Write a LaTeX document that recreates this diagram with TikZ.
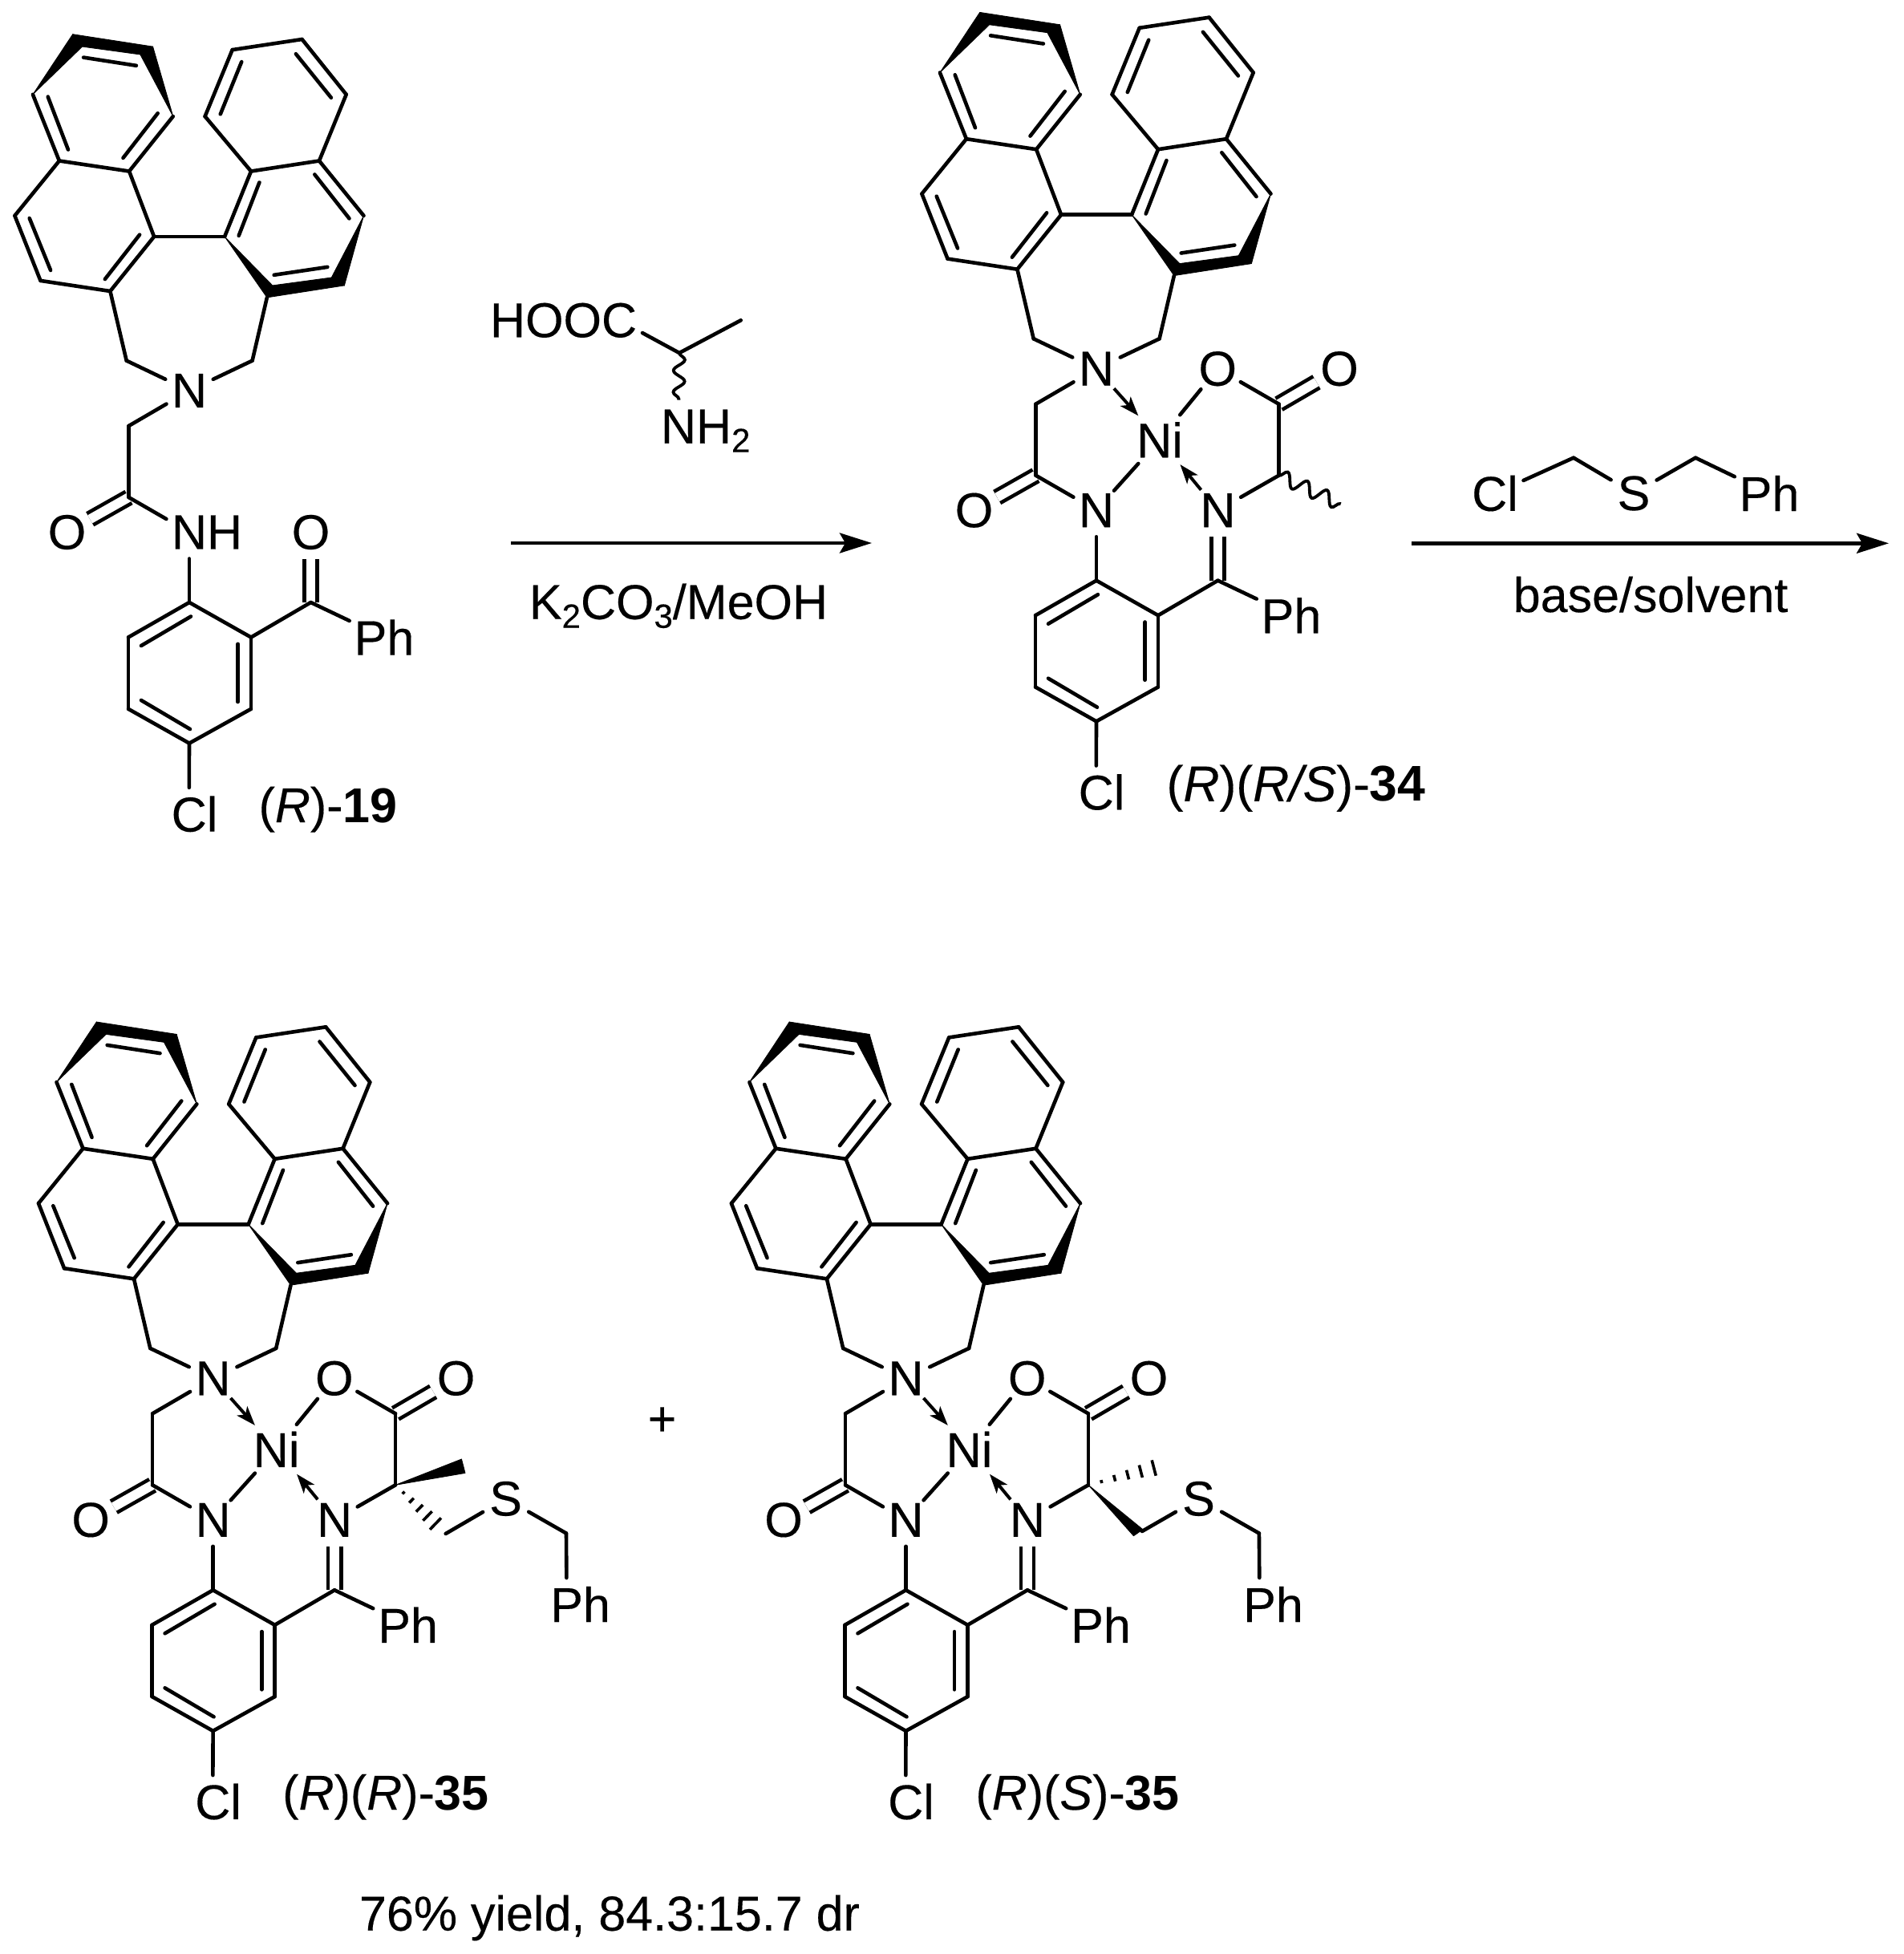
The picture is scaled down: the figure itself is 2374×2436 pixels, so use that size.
\documentclass[tikz,border=0pt]{standalone}
\usepackage{fontspec}
\setmainfont{Liberation Sans}[UprightFeatures={FakeBold=0.25},ItalicFeatures={FakeBold=0.25}]
\usetikzlibrary{arrows.meta,calc,decorations.pathmorphing}
\newcommand\sbs[1]{\raisebox{-11pt}[0pt][0pt]{\fontsize{42}{42}\selectfont #1}}
\tikzset{
  x=1pt,y=-1pt,
  bond/.style={line width=4.6pt,line cap=round,line join=round},
  dbl/.style={line width=4.6pt,double,double distance=11.6pt,line cap=butt},
  solid wedge/.style={fill=black,draw=black,line width=0.8pt,line join=round},
  dative/.style={line width=4pt,-{Stealth[length=24pt,width=17pt,inset=6pt]}},
  hashline/.style={line width=3.6pt},
  wavy/.style={line width=3.8pt,decorate,decoration={snake,segment length=27pt,amplitude=8.5pt,pre length=0pt,post length=0pt}},
  rxn/.style={line width=4.6pt,-{Stealth[length=40pt,width=25pt,inset=7pt]}},
  atom/.style={circle,inner sep=0pt,outer sep=0pt,minimum size=66pt,font=\fontsize{61}{63}\selectfont},
  nickel/.style={atom,minimum size=80pt},
  phenyl/.style={atom,minimum size=96pt},
  lab/.style={anchor=base,inner sep=0pt,font=\fontsize{61}{63}\selectfont}
}
% binaphthyl part, common to all four compounds
\newcommand\binaph[1]{%
  \coordinate (#1a) at (90.7,42.7);   \coordinate (#1b) at (190.6,58.1);
  \coordinate (#1ai) at (102.6,58.1); \coordinate (#1bi) at (174.9,68);
  \coordinate (#1c) at (40.9,117.8);  \coordinate (#1d) at (215.8,145.1);
  \coordinate (#1e) at (73.9,200.5);  \coordinate (#1f) at (161.1,213.5);
  \coordinate (#1g) at (18.4,268.9);  \coordinate (#1h) at (192.1,295);
  \coordinate (#1i) at (50.5,349.9);  \coordinate (#1j) at (137.4,363);
  \coordinate (#1k) at (157.7,449.6); \coordinate (#1l) at (314.6,449.6);
  \coordinate (#1m) at (332.9,370.9); \coordinate (#1n) at (280.1,295);
  \coordinate (#1o) at (313,213.5);   \coordinate (#1p) at (398,200.5);
  \coordinate (#1q) at (453.5,268.9); \coordinate (#1r) at (429.4,355.9);
  \coordinate (#1ri) at (413.3,346);  \coordinate (#1mi) at (339.8,355.9);
  \coordinate (#1s) at (255.6,145.1); \coordinate (#1t) at (289.7,62.1);
  \coordinate (#1u) at (376.6,49);    \coordinate (#1v) at (431.7,117.8);
  \filldraw[solid wedge] (#1c) -- (#1a) -- (#1ai) -- cycle;
  \filldraw[solid wedge] (#1a) -- (#1b) -- (#1bi) -- (#1ai) -- cycle;
  \filldraw[solid wedge] (#1d) -- (#1b) -- (#1bi) -- cycle;
  \filldraw[solid wedge] (#1n) -- (#1mi) -- (#1m) -- cycle;
  \filldraw[solid wedge] (#1mi) -- (#1ri) -- (#1r) -- (#1m) -- cycle;
  \filldraw[solid wedge] (#1q) -- (#1r) -- (#1ri) -- cycle;
  \draw[bond] (#1c) -- (#1e);
  \draw[bond] (#1e) -- (#1f);
  \draw[bond] (#1f) -- (#1d);
  \draw[bond] (#1e) -- (#1g);
  \draw[bond] (#1g) -- (#1i);
  \draw[bond] (#1i) -- (#1j);
  \draw[bond] (#1j) -- (#1h);
  \draw[bond] (#1h) -- (#1f);
  \draw[bond] (#1h) -- (#1n);
  \draw[bond] (#1n) -- (#1o);
  \draw[bond] (#1o) -- (#1p);
  \draw[bond] (#1p) -- (#1q);
  \draw[bond] (#1o) -- (#1s);
  \draw[bond] (#1s) -- (#1t);
  \draw[bond] (#1t) -- (#1u);
  \draw[bond] (#1u) -- (#1v);
  \draw[bond] (#1v) -- (#1p);
  \draw[bond] (#1j) -- (#1k);
  \draw[bond] (#1l) -- (#1m);
  % inner strokes of the aromatic double bonds
  \draw[bond] (104.1,71.6) -- (169.9,81.8);
  \draw[bond] (59.7,120.6) -- (85,186.6);
  \draw[bond] (196.7,141.2) -- (153.5,196.9);
  \draw[bond] (36.7,272) -- (63.1,336.9);
  \draw[bond] (174.1,292.6) -- (130.9,348);
  \draw[bond] (301.2,77.1) -- (274.8,142.3);
  \draw[bond] (368.9,67.2) -- (412.9,121.8);
  \draw[bond] (323.4,227.4) -- (297.7,293.8);
  \draw[bond] (392.3,217.5) -- (435.5,272.4);
  \draw[bond] (341.7,342.8) -- (408.3,332.9);
}
% lower part shared by all: #1 prefix, #2 text of amide N, #3 text of top atom
\newcommand\skeleton[3]{%
  \binaph{#1}
  \node[atom] (#1n1) at (236,487) {N};
  \node[atom] (#1n2) at (236,663.5) {#2};
  \node[atom] (#1n3) at (387.5,663.5) {#3};
  \node[atom] (#1o3) at (83.5,663.5) {O};
  \node[atom] (#1cl) at (235.7,1014.8) {C\rlap{l}};
  \node[phenyl] (#1ph) at (479,794.5) {Ph};
  \coordinate (#1c1) at (160.5,531);
  \coordinate (#1c2) at (160.5,620);
  \coordinate (#1c5) at (387.5,751);
  \coordinate (#1r1) at (236,751);
  \coordinate (#1r2) at (313,794.5);
  \coordinate (#1r3) at (313,883.8);
  \coordinate (#1r4) at (236,926.6);
  \coordinate (#1r5) at (160,883.8);
  \coordinate (#1r6) at (160,794.5);
  \draw[dbl] (#1c2) -- (#1o3);
  \draw[dbl] (#1c5) -- (#1n3);
  \draw[bond] (#1k) -- (#1n1);
  \draw[bond] (#1l) -- (#1n1);
  \draw[bond] (#1n1) -- (#1c1);
  \draw[bond] (#1c1) -- (#1c2);
  \draw[bond] (#1c2) -- (#1n2);
  \draw[bond] (#1n2) -- (#1r1);
  \draw[bond] (#1r1) -- (#1r2);
  \draw[bond] (#1r2) -- (#1r3);
  \draw[bond] (#1r3) -- (#1r4);
  \draw[bond] (#1r4) -- (#1r5);
  \draw[bond] (#1r5) -- (#1r6);
  \draw[bond] (#1r6) -- (#1r1);
  \draw[bond] (#1r2) -- (#1c5);
  \draw[bond] (#1c5) -- (#1ph);
  \draw[bond] (#1r4) -- (#1cl);
  \draw[bond] (238,768.5) -- (176,805);
  \draw[bond] (296.6,802.8) -- (296.6,875);
  \draw[bond] (176,873) -- (237,909);
}
% nickel chelate
\newcommand\chelate[1]{%
  \skeleton{#1}{N}{N}
  \node[nickel] (#1ni) at (315,575.5) {Ni};
  \node[atom] (#1o1) at (387.2,487) {O};
  \node[atom] (#1o2) at (539,487) {O};
  \coordinate (#1c3) at (463.5,531);
  \coordinate (#1c4) at (463.5,620);
  \draw[dbl] (#1c3) -- (#1o2);
  \draw[bond] (#1o1) -- (#1ni);
  \draw[bond] (#1n2) -- (#1ni);
  \draw[dative] (#1n1) -- (#1ni);
  \draw[dative] (#1n3) -- (#1ni);
  \draw[bond] (#1o1) -- (#1c3);
  \draw[bond] (#1c3) -- (#1c4);
  \draw[bond] (#1c4) -- (#1n3);
}
\newcommand\hashb[2]{%
  \foreach \t/\w in {.2/2,.4/4,.6/6,.8/8,1/10}{
    \draw[hashline] ($(#1)!\t!(#2)!\w pt!90:(#1)$) -- ($(#1)!\t!(#2)!\w pt!-90:(#1)$);
  }%
}
% S-benzyl arm: #1 prefix, #2 x of first CH2, #3 y of first CH2
\newcommand\thioarm[3]{%
  \coordinate (#1c6) at (#2,#3);
  \node[atom] (#1s) at (601,637.1) {S};
  \coordinate (#1c7) at (676.4,680.2);
  \node[atom] (#1ph2) at (677,768.7) {P\rlap{h}};
  \draw[bond] (#1c6) -- (#1s);
  \draw[bond] (#1s) -- (#1c7);
  \draw[bond] (#1c7) -- (#1ph2);
}
\begin{document}
\begin{tikzpicture}
\useasboundingbox (0,0) rectangle (2374,2436);
\fill[white] (0,0) rectangle (2374,2436);
% (R)-19
\skeleton{A}{N\rlap{H}}{O}
\node[lab] (lab19) at (409,1025) {(\textit{R})-\textbf{19}};
% (R)(R/S)-34
\begin{scope}[shift={(1131,-27.3)}]
  \chelate{B}
  \coordinate (Bme) at (540.7,655.6);
  \draw[wavy] (Bc4) -- (Bme);
\end{scope}
\node[lab,font=\fontsize{62.5}{64}\selectfont] (lab34) at (1616,998.8) {(\textit{R})(\textit{R/S})-\textbf{34}};
% (R)(R)-35
\begin{scope}[shift={(29.6,1231.3)}]
  \chelate{C}
  \coordinate (Cw1) at (545.9,587.7);
  \coordinate (Cw2) at (550.4,605.1);
  \filldraw[solid wedge] (Cc4) -- (Cw1) -- (Cw2) -- cycle;
  \coordinate (Chend) at (513.4,668.3);
  \hashb{Cc4}{Chend}
  \thioarm{C}{526.1}{680.7}
\end{scope}
\node[lab] (labRR) at (481,2256) {(\textit{R})(\textit{R})-\textbf{35}};
% (R)(S)-35
\begin{scope}[shift={(893.5,1231.3)}]
  \chelate{D}
  \coordinate (Dw1) at (519.9,683.4);
  \coordinate (Dw2) at (531.5,675.5);
  \filldraw[solid wedge] (Dc4) -- (Dw1) -- (Dw2) -- cycle;
  \coordinate (Dhend) at (545.2,598.7);
  \hashb{Dc4}{Dhend}
  \thioarm{D}{530.5}{677.7}
\end{scope}
\node[lab] (labRS) at (1343.5,2256) {(\textit{R})(\textit{S})-\textbf{35}};
\node[atom] (plus) at (825.6,1772) {+};
\node[lab] (yield) at (760,2406.7) {76\% yield, 84.3:15.7 dr};
% first reagent and arrow
\node[atom] (hooc) at (772,399.3) {\llap{HOO}C};
\coordinate (ch) at (847,440);
\coordinate (me) at (923.7,399.3);
\node[atom] (nh2) at (846,531.7) {N\rlap{H\sbs{2}}};
\draw[bond] (hooc) -- (ch);
\draw[bond] (ch) -- (me);
\draw[wavy,decoration={segment length=27pt,amplitude=7pt}] (ch) -- (nh2);
\coordinate (a1s) at (637,677);
\coordinate (a1e) at (1087,677);
\draw[rxn] (a1s) -- (a1e);
\node[lab] (k2co3) at (846,771.7) {K\sbs{2}CO\sbs{3}/MeOH};
% second reagent and arrow
\node[atom,minimum size=78pt] (rcl) at (1864,615) {Cl};
\coordinate (rc1) at (1962,570.7);
\node[atom] (rs) at (2037,615) {S};
\coordinate (rc2) at (2114,570.7);
\node[phenyl] (rph) at (2206,615) {Ph};
\draw[bond] (rcl) -- (rc1);
\draw[bond] (rc1) -- (rs);
\draw[bond] (rs) -- (rc2);
\draw[bond] (rc2) -- (rph);
\coordinate (a2s) at (1760,677.3);
\coordinate (a2e) at (2355,677.3);
\draw[rxn] (a2s) -- (a2e);
\node[lab] (basesolv) at (2058,763) {base/solvent};
\end{tikzpicture}
\end{document}
